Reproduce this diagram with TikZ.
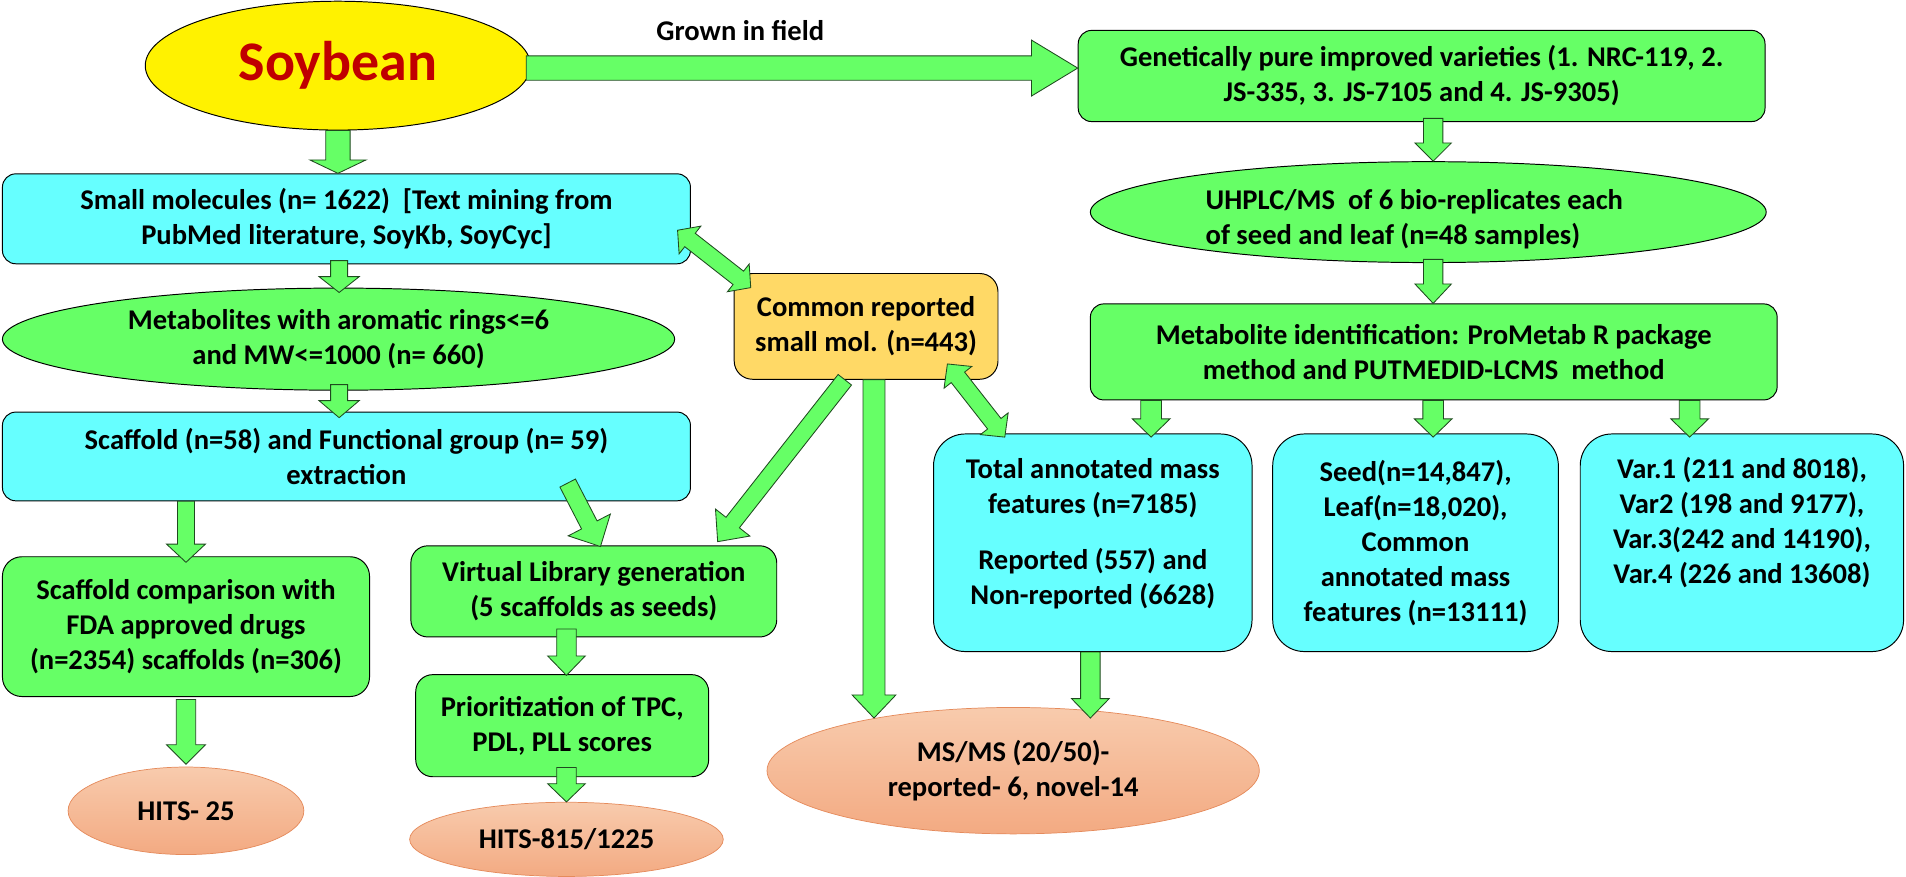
\documentclass[tikz,border=0pt]{standalone}
\usepackage{fontspec}
\setmainfont{Carlito}
\usetikzlibrary{shapes.geometric,calc}
\definecolor{agreen}{HTML}{66FF66}
\definecolor{acyan}{HTML}{66FFFF}
\definecolor{agold}{HTML}{FFD966}
\definecolor{soyred}{HTML}{C00000}
\definecolor{arrline}{HTML}{1F4A1F}
\definecolor{saltop}{HTML}{F8CBAD}
\definecolor{salbot}{HTML}{F3AA82}
\definecolor{salline}{HTML}{E58B5C}
\newcommand{\tf}{\fontsize{23.5}{28.8}\selectfont\bfseries}
% block arrow: from, to, shaft half width, head half width, head length
\newcommand{\barrow}[5]{%
 \coordinate (ba) at (#1); \coordinate (bb) at (#2);
 \coordinate (bh) at ($(bb)!#5pt!(ba)$);
 \filldraw[barr] ($(ba)!#3pt!90:(bb)$) -- ($(bh)!#3pt!-90:(ba)$) -- ($(bh)!#4pt!-90:(ba)$) -- (bb)
   -- ($(bh)!#4pt!90:(ba)$) -- ($(bh)!#3pt!90:(ba)$) -- ($(ba)!#3pt!-90:(bb)$) -- cycle;}
\newcommand{\dbarrow}[5]{%
 \coordinate (ba) at (#1); \coordinate (bb) at (#2);
 \coordinate (bh) at ($(bb)!#5pt!(ba)$); \coordinate (bt) at ($(ba)!#5pt!(bb)$);
 \filldraw[barr] (ba) -- ($(bt)!#4pt!90:(bb)$) -- ($(bt)!#3pt!90:(bb)$) -- ($(bh)!#3pt!-90:(ba)$)
   -- ($(bh)!#4pt!-90:(ba)$) -- (bb) -- ($(bh)!#4pt!90:(ba)$) -- ($(bh)!#3pt!90:(ba)$)
   -- ($(bt)!#3pt!-90:(bb)$) -- ($(bt)!#4pt!-90:(bb)$) -- cycle;}
\tikzset{
 base/.style={draw=black, line width=0.8pt, align=center, font=\tf, inner sep=0pt},
 gbox/.style={base, rectangle, rounded corners=11pt, fill=agreen},
 cbox/.style={base, rectangle, rounded corners=11pt, fill=acyan},
 goval/.style={base, ellipse, fill=agreen},
 soval/.style={base, ellipse, draw=salline, line width=0.6pt, top color=saltop, bottom color=salbot},
 txt/.style={align=center, font=\tf, inner sep=0pt},
 barr/.style={draw=arrline, fill=agreen, line width=0.7pt, line join=miter},
}
\begin{document}
\begin{tikzpicture}[x=1pt,y=-1pt]
\useasboundingbox (0,0) rectangle (1568,721);
% left column
\node[base, ellipse, fill=yellow, minimum width=317pt, minimum height=106pt] (soy) at (278,54)
  {\fontsize{46}{50}\selectfont\bfseries\color{soyred}Soybean};
\node[txt] (grown) at (609,25) {Grown in field};
\node[cbox, minimum width=566pt, minimum height=74pt] (small) at (285,180)
  {Small molecules (n= 1622)~ [Text mining from\\PubMed literature, SoyKb, SoyCyc]};
\node[goval, minimum width=553pt, minimum height=84pt] (metab) at (278.5,279)
  {Metabolites with aromatic rings<=6\\and MW<=1000 (n= 660)};
\node[cbox, minimum width=566pt, minimum height=73pt] (scaf) at (285,375.5)
  {Scaffold (n=58) and Functional group (n= 59)\\extraction};
\node[gbox, rounded corners=16pt, minimum width=302pt, minimum height=115pt] (comp) at (153,515.5)
  {Scaffold comparison with\\FDA approved drugs\\(n=2354) scaffolds (n=306)};
\node[soval, minimum width=194pt, minimum height=72pt] (hits25) at (153,667) {HITS- 25};
\node[gbox, rounded corners=14pt, minimum width=301pt, minimum height=75pt] (virt) at (488.5,486.5)
  {Virtual Library generation\\(5 scaffolds as seeds)};
\node[gbox, rounded corners=14pt, minimum width=241pt, minimum height=84pt] (prior) at (462.5,597)
  {Prioritization of TPC,\\PDL, PLL scores};
\node[soval, minimum width=258pt, minimum height=61pt] (hits815) at (466,690.5) {HITS-815/1225};
% middle
\node[base, rectangle, rounded corners=15pt, fill=agold, minimum width=217pt, minimum height=87pt] (common) at (712.5,268.5)
  {Common reported\\small mol. (n=443)};
\node[soval, minimum width=405pt, minimum height=104pt] (msms) at (833.5,634)
  {MS/MS (20/50)-\\reported- 6, novel-14};
% right column
\node[gbox, minimum width=565pt, minimum height=75pt] (gen) at (1169.5,62.5)
  {Genetically pure improved varieties (1. NRC-119, 2.\\JS-335, 3. JS-7105 and 4. JS-9305)};
\node[goval, minimum width=556pt, minimum height=83pt] (uh) at (1175,174.5) {};
\node[txt, align=left] (uht) at (1163.5,180.5) {UHPLC/MS~ of 6 bio-replicates each\\of seed and leaf (n=48 samples)};
\node[gbox, minimum width=565pt, minimum height=79pt] (met) at (1179.5,289.5)
  {Metabolite identification: ProMetab R package\\method and PUTMEDID-LCMS~ method};
\node[cbox, rounded corners=26pt, minimum width=262pt, minimum height=179pt] (tot) at (899,446.5) {};
\node[txt] (tott) at (899,439) {Total annotated mass\\features (n=7185)\\[17pt]Reported (557) and\\Non-reported (6628)};
\node[cbox, rounded corners=26pt, minimum width=235pt, minimum height=179pt] (seed) at (1164.5,446.5)
  {Seed(n=14,847),\\Leaf(n=18,020),\\Common\\annotated mass\\features (n=13111)};
\node[cbox, rounded corners=26pt, minimum width=266pt, minimum height=179pt] (var) at (1433,446.5) {};
\node[txt] (vart) at (1433,430) {Var.1 (211 and 8018),\\Var2 (198 and 9177),\\Var.3(242 and 14190),\\Var.4 (226 and 13608)};
% arrows
\barrow{$(soy.east)+(-4,2)$}{$(gen.west)+(0,-6.5)$}{10}{23}{38}
\barrow{soy.south}{$(small.north)+(-7,0)$}{10}{23}{11}
\barrow{$(small.south)+(-6,-3)$}{$(metab.north)+(0.5,4)$}{7}{16.5}{13}
\barrow{$(metab.south)+(0.5,-5)$}{$(scaf.north)+(-6,5)$}{7}{16.5}{14}
\barrow{$(scaf.south)+(-132,0)$}{$(comp.north)+(0,5)$}{7}{16}{15}
\barrow{$(comp.south)+(0,2)$}{$(hits25.north)+(0,-2)$}{8}{16}{16}
\barrow{$(scaf.south)+(182,-15)$}{$(virt.north)+(5.5,1)$}{7.2}{19.5}{20}
\barrow{$(common.south)+(-17.5,0)$}{$(virt.north east)+(-49,-3)$}{7}{18}{20}
\dbarrow{$(small.south east)+(-11,-28)$}{$(common.north west)+(14,12)$}{7}{14.5}{13}
\dbarrow{$(common.south east)+(-42,-13)$}{$(tot.north west)+(59,3)$}{7}{14.5}{14}
\barrow{$(common.south)+(6.5,0)$}{$(msms.north)+(-114.5,9)$}{9}{18}{19}
\barrow{$(tot.south)+(-2,0)$}{$(msms.north)+(63.5,9)$}{8}{15.5}{16}
\barrow{$(virt.south)+(-22.5,-7)$}{$(prior.north)+(3.5,1)$}{8}{15.5}{16}
\barrow{$(prior.south)+(3.5,-8)$}{hits815.north}{8}{15.5}{15}
\barrow{$(gen.south)+(9.5,-3)$}{$(uh.north)+(4,0)$}{8}{15}{15}
\barrow{$(uh.south)+(4,-3)$}{$(met.north)+(-0.5,0)$}{8}{15}{16}
\barrow{$(met.south)+(-232.5,0)$}{$(tot.north)+(48,3)$}{8.5}{15.5}{15}
\barrow{$(met.south)+(-0.5,0)$}{$(seed.north)+(14.5,3)$}{8.5}{15.5}{15}
\barrow{$(met.south)+(210.5,0)$}{$(var.north)+(-43,3)$}{8.5}{15.5}{15}
\end{tikzpicture}
\end{document}
